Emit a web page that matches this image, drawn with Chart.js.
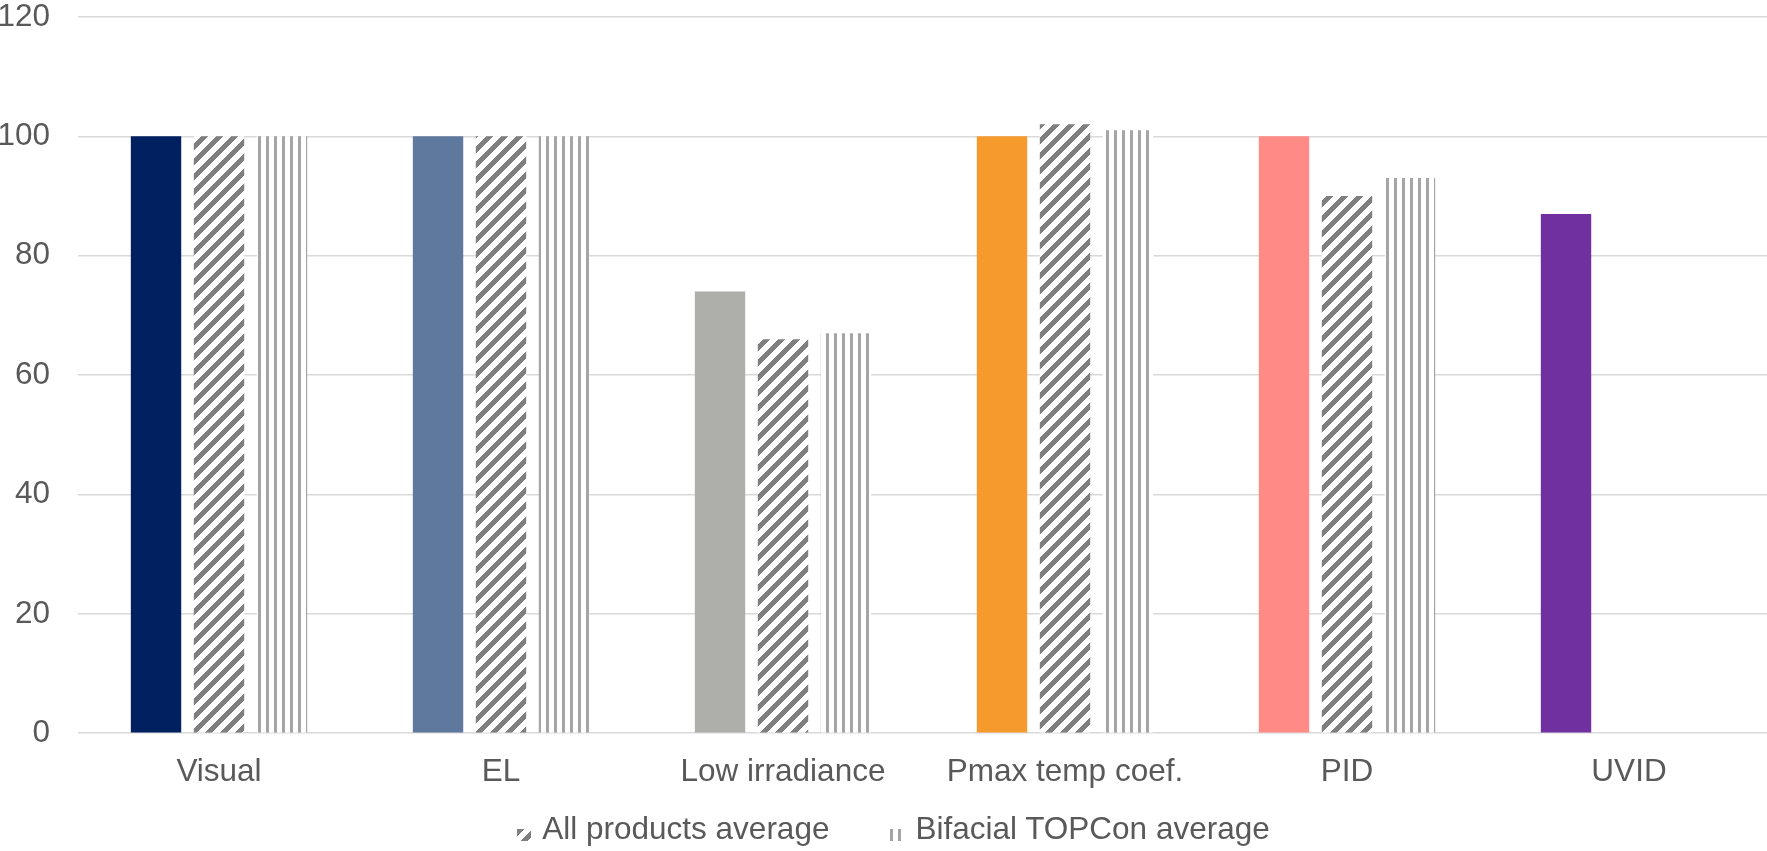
<!DOCTYPE html>
<html>
<head>
<meta charset="utf-8">
<script src="https://cdn.jsdelivr.net/npm/chart.js@4.4.1/dist/chart.umd.min.js"></script>
<style>
  html, body { margin: 0; padding: 0; width: 1767px; height: 851px; overflow: hidden; background: #ffffff; }
  #wrap { position: absolute; left: -6px; top: -2px; width: 1776px; height: 814px; }
  #legend {
    position: absolute; left: 0; top: 810px; width: 1787px;
    display: flex; justify-content: center; align-items: flex-start;
    font-family: "Liberation Sans", Arial, Helvetica, sans-serif; font-size: 31.5px; line-height: 36px; color: #595959;
  }
  #legend .item { display: flex; align-items: flex-start; margin: 0 30.5px; white-space: nowrap; }
  #legend canvas { margin-top: 19px; margin-right: 11px; }
</style>
</head>
<body>
<div id="wrap"><canvas id="chart"></canvas></div>
<div id="legend"></div>
<script>
// Test categories and scores
const categories = ['Visual', 'EL', 'Low irradiance', 'Pmax temp coef.', 'PID', 'UVID'];
const moduleScores = [100, 100, 74, 100, 100, 87];
const allProductsAverage = [100, 100, 66, 102, 90, null];
const bifacialTopconAverage = [100, 100, 67, 101, 93, null];
const seriesNames = ['Module score', 'All products average', 'Bifacial TOPCon average'];
const yMin = 0, yMax = 120, yStep = 20;

// One colour per test category for the module bars
const categoryColors = ['#002060', '#5f799e', '#aeaeaa', '#f79a2d', '#ff8b87', '#7030a0'];

const FONT = '"Liberation Sans", Arial, Helvetica, sans-serif';
const TEXT = '#595959';
const FONT_SIZE = 31.5;

// Pixel fill patterns for the two average series
function makeTile(w, h, paint) {
  const c = document.createElement('canvas');
  c.width = w; c.height = h;
  const g = c.getContext('2d');
  g.fillStyle = '#ffffff';
  g.fillRect(0, 0, w, h);
  paint(g, w, h);
  return c;
}
const tmp = document.createElement('canvas').getContext('2d');
const diagonalTile = makeTile(15, 15, (g, w) => {
  g.fillStyle = '#7f7f7f';
  for (let y = 0; y < w; y++)
    for (let x = 0; x < w; x++)
      if ((x + y) % w < 7) g.fillRect(x, y, 1, 1);
});
const verticalTile = makeTile(8, 1, (g) => {
  g.fillStyle = '#a5a5a5';
  g.fillRect(0, 0, 3, 1);
});
const diagonalFill = tmp.createPattern(diagonalTile, 'repeat');
const verticalFill = tmp.createPattern(verticalTile, 'repeat');

// HTML legend built from the chart's own legend items (average series only)
const htmlLegend = {
  id: 'htmlLegend',
  afterUpdate(chart) {
    const box = document.getElementById('legend');
    box.innerHTML = '';
    const items = chart.options.plugins.legend.labels.generateLabels(chart)
      .filter((it) => it.datasetIndex > 0);
    items.forEach((it) => {
      const row = document.createElement('div');
      row.className = 'item';
      const icon = document.createElement('canvas');
      icon.width = 14; icon.height = 12;
      const g = icon.getContext('2d');
      g.fillStyle = it.fillStyle;
      g.fillRect(0, 0, 14, 12);
      const label = document.createElement('span');
      label.textContent = it.text;
      row.appendChild(icon);
      row.appendChild(label);
      box.appendChild(row);
    });
  }
};

const ctx = document.getElementById('chart').getContext('2d');
new Chart(ctx, {
  type: 'bar',
  data: {
    labels: categories,
    datasets: [
      { label: seriesNames[0], data: moduleScores, backgroundColor: categoryColors, borderWidth: 0 },
      { label: seriesNames[1], data: allProductsAverage, backgroundColor: diagonalFill, borderWidth: 0 },
      { label: seriesNames[2], data: bifacialTopconAverage, backgroundColor: verticalFill, borderWidth: 0 }
    ]
  },
  plugins: [htmlLegend],
  options: {
    responsive: true,
    maintainAspectRatio: false,
    devicePixelRatio: 1,
    animation: false,
    categoryPercentage: 0.67,
    barPercentage: 0.8,
    layout: { padding: 0 },
    plugins: {
      tooltip: { enabled: false },
      legend: { display: false }
    },
    scales: {
      x: {
        grid: { display: false, drawTicks: false },
        border: { display: false },
        ticks: { color: TEXT, font: { family: FONT, size: FONT_SIZE }, padding: 20.5, maxRotation: 0, autoSkip: false }
      },
      y: {
        min: yMin,
        max: yMax,
        grid: { color: '#d9d9d9', lineWidth: 1.5, drawTicks: true, tickLength: 28, tickColor: 'rgba(0,0,0,0)' },
        border: { display: false },
        ticks: { stepSize: yStep, color: TEXT, font: { family: FONT, size: FONT_SIZE }, padding: 0 },
        afterFit: (s) => { s.width = 84; }
      }
    }
  }
});
</script>
</body>
</html>
